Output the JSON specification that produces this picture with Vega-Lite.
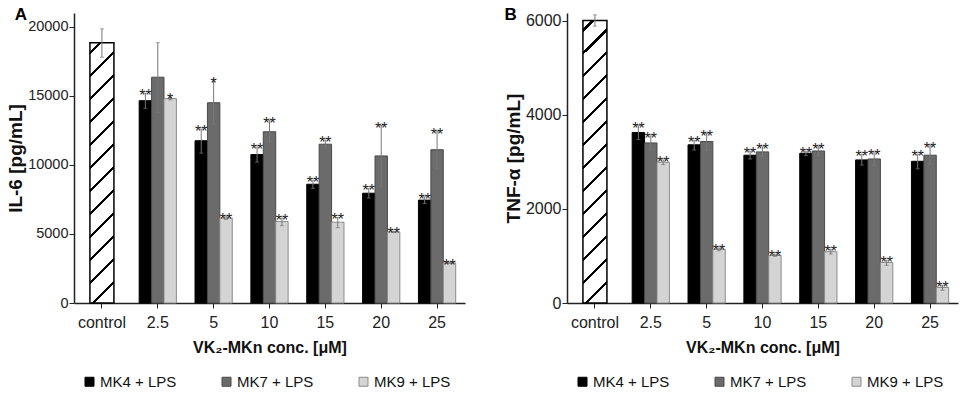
{
  "$schema": "https://vega.github.io/schema/vega-lite/v6.json",
  "padding": {"left": 6, "top": 5, "right": 5, "bottom": 0},
  "autosize": {"type": "pad"},
  "datasets": {
    "il6": [
      {"conc": "control", "series": "control", "value": 18850, "lo": 17800, "hi": 19850, "sig": ""},
      {"conc": "2.5", "series": "MK4 + LPS", "value": 14650, "lo": 14100, "hi": 15200, "sig": "**"},
      {"conc": "2.5", "series": "MK7 + LPS", "value": 16350, "lo": 13800, "hi": 18850, "sig": ""},
      {"conc": "2.5", "series": "MK9 + LPS", "value": 14800, "lo": 14700, "hi": 14900, "sig": "*"},
      {"conc": "5", "series": "MK4 + LPS", "value": 11750, "lo": 10850, "hi": 12600, "sig": "**"},
      {"conc": "5", "series": "MK7 + LPS", "value": 14500, "lo": 12950, "hi": 16050, "sig": "*"},
      {"conc": "5", "series": "MK9 + LPS", "value": 6150, "lo": 6050, "hi": 6250, "sig": "**"},
      {"conc": "10", "series": "MK4 + LPS", "value": 10750, "lo": 10200, "hi": 11300, "sig": "**"},
      {"conc": "10", "series": "MK7 + LPS", "value": 12400, "lo": 11650, "hi": 13200, "sig": "**"},
      {"conc": "10", "series": "MK9 + LPS", "value": 5900, "lo": 5600, "hi": 6150, "sig": "**"},
      {"conc": "15", "series": "MK4 + LPS", "value": 8600, "lo": 8300, "hi": 8900, "sig": "**"},
      {"conc": "15", "series": "MK7 + LPS", "value": 11500, "lo": 11200, "hi": 11800, "sig": "**"},
      {"conc": "15", "series": "MK9 + LPS", "value": 5850, "lo": 5450, "hi": 6200, "sig": "**"},
      {"conc": "20", "series": "MK4 + LPS", "value": 7950, "lo": 7600, "hi": 8300, "sig": "**"},
      {"conc": "20", "series": "MK7 + LPS", "value": 10650, "lo": 8450, "hi": 12850, "sig": "**"},
      {"conc": "20", "series": "MK9 + LPS", "value": 5150, "lo": 5100, "hi": 5200, "sig": "**"},
      {"conc": "25", "series": "MK4 + LPS", "value": 7450, "lo": 7200, "hi": 7700, "sig": "**"},
      {"conc": "25", "series": "MK7 + LPS", "value": 11100, "lo": 9750, "hi": 12400, "sig": "**"},
      {"conc": "25", "series": "MK9 + LPS", "value": 2900, "lo": 2870, "hi": 2930, "sig": "**"}
    ],
    "tnf": [
      {"conc": "control", "series": "control", "value": 6000, "lo": 5880, "hi": 6120, "sig": ""},
      {"conc": "2.5", "series": "MK4 + LPS", "value": 3620, "lo": 3470, "hi": 3770, "sig": "**"},
      {"conc": "2.5", "series": "MK7 + LPS", "value": 3400, "lo": 3250, "hi": 3550, "sig": "**"},
      {"conc": "2.5", "series": "MK9 + LPS", "value": 2990, "lo": 2940, "hi": 3040, "sig": "**"},
      {"conc": "5", "series": "MK4 + LPS", "value": 3360, "lo": 3250, "hi": 3460, "sig": "**"},
      {"conc": "5", "series": "MK7 + LPS", "value": 3430, "lo": 3240, "hi": 3600, "sig": "**"},
      {"conc": "5", "series": "MK9 + LPS", "value": 1140, "lo": 1110, "hi": 1170, "sig": "**"},
      {"conc": "10", "series": "MK4 + LPS", "value": 3140, "lo": 3060, "hi": 3230, "sig": "**"},
      {"conc": "10", "series": "MK7 + LPS", "value": 3210, "lo": 3110, "hi": 3320, "sig": "**"},
      {"conc": "10", "series": "MK9 + LPS", "value": 1010, "lo": 990, "hi": 1040, "sig": "**"},
      {"conc": "15", "series": "MK4 + LPS", "value": 3180, "lo": 3130, "hi": 3230, "sig": "**"},
      {"conc": "15", "series": "MK7 + LPS", "value": 3230, "lo": 3130, "hi": 3320, "sig": "**"},
      {"conc": "15", "series": "MK9 + LPS", "value": 1090, "lo": 1040, "hi": 1140, "sig": "**"},
      {"conc": "20", "series": "MK4 + LPS", "value": 3040, "lo": 2930, "hi": 3160, "sig": "**"},
      {"conc": "20", "series": "MK7 + LPS", "value": 3060, "lo": 2920, "hi": 3190, "sig": "**"},
      {"conc": "20", "series": "MK9 + LPS", "value": 860, "lo": 800, "hi": 910, "sig": "**"},
      {"conc": "25", "series": "MK4 + LPS", "value": 3010, "lo": 2850, "hi": 3160, "sig": "**"},
      {"conc": "25", "series": "MK7 + LPS", "value": 3140, "lo": 2950, "hi": 3340, "sig": "**"},
      {"conc": "25", "series": "MK9 + LPS", "value": 330, "lo": 270, "hi": 380, "sig": "**"}
    ]
  },
  "spacing": 39,
  "resolve": {"scale": {"color": "independent", "stroke": "independent", "x": "independent", "y": "independent", "xOffset": "independent"}, "legend": {"color": "independent", "stroke": "independent"}},
  "hconcat": [
    {
      "width": 391,
      "height": 290,
      "title": {"text": "A", "anchor": "start", "frame": "bounds", "fontSize": 17, "fontWeight": "bold", "offset": -11, "dx": 8, "color": "#000"},
      "data": {"name": "il6"},
      "encoding": {
        "x": {"field": "conc", "type": "nominal", "sort": ["control", "2.5", "5", "10", "15", "20", "25"],
              "scale": {"paddingInner": 0, "paddingOuter": 0},
              "axis": {"labelAngle": 0, "labelFontSize": 16, "labelPadding": 6, "title": "VK₂-MKn conc. [μM]", "titleFontSize": 16, "titleFontWeight": "bold", "titlePadding": 9}}
      },
      "layer": [
        {
          "transform": [{"filter": "datum.series !== 'control'"}],
          "mark": {"type": "bar", "strokeWidth": 1},
          "encoding": {
            "xOffset": {"field": "series", "type": "nominal", "scale": {"domain": ["MK4 + LPS", "MK7 + LPS", "MK9 + LPS"], "paddingInner": 0, "paddingOuter": 0.75}},
            "y": {"field": "value", "type": "quantitative", "scale": {"domain": [0, 21000], "nice": false},
                  "axis": {"values": [0, 5000, 10000, 15000, 20000], "format": "d", "labelFontSize": 14.5, "labelPadding": 1, "title": "IL-6 [pg/mL]", "titleFontSize": 19, "titleFontWeight": "bold", "titlePadding": 2}},
            "color": {"field": "series", "type": "nominal", "scale": {"domain": ["MK4 + LPS", "MK7 + LPS", "MK9 + LPS"], "range": ["#000000", "#6b6b6b", "#d4d4d4"]},
                      "legend": {"title": null, "orient": "bottom", "direction": "horizontal", "symbolType": "square", "symbolSize": 81, "labelFontSize": 15, "columnPadding": 42, "labelOffset": 3, "offset": 11, "padding": 8, "symbolStrokeWidth": 1}},
            "stroke": {"field": "series", "type": "nominal", "scale": {"domain": ["MK4 + LPS", "MK7 + LPS", "MK9 + LPS"], "range": ["#000000", "#4a4a4a", "#8c8c8c"]}, "legend": null}
          }
        },
        {
          "transform": [{"filter": "datum.series === 'control'"}],
          "mark": {"type": "bar", "width": 24, "stroke": "#000", "strokeWidth": 1.5,
                   "fill": {"gradient": "linear", "x1": 0, "y1": 0, "x2": 0.1, "y2": 1.083, "stops": [
                     {"offset": 0, "color": "#ffffff"},
                     {"offset": 0.0296, "color": "#ffffff"}, {"offset": 0.0296, "color": "#000000"}, {"offset": 0.0408, "color": "#000000"}, {"offset": 0.0408, "color": "#ffffff"},
                     {"offset": 0.1106, "color": "#ffffff"}, {"offset": 0.1106, "color": "#000000"}, {"offset": 0.1218, "color": "#000000"}, {"offset": 0.1218, "color": "#ffffff"},
                     {"offset": 0.1915, "color": "#ffffff"}, {"offset": 0.1915, "color": "#000000"}, {"offset": 0.2028, "color": "#000000"}, {"offset": 0.2028, "color": "#ffffff"},
                     {"offset": 0.2725, "color": "#ffffff"}, {"offset": 0.2725, "color": "#000000"}, {"offset": 0.2838, "color": "#000000"}, {"offset": 0.2838, "color": "#ffffff"},
                     {"offset": 0.3535, "color": "#ffffff"}, {"offset": 0.3535, "color": "#000000"}, {"offset": 0.3648, "color": "#000000"}, {"offset": 0.3648, "color": "#ffffff"},
                     {"offset": 0.4345, "color": "#ffffff"}, {"offset": 0.4345, "color": "#000000"}, {"offset": 0.4458, "color": "#000000"}, {"offset": 0.4458, "color": "#ffffff"},
                     {"offset": 0.5155, "color": "#ffffff"}, {"offset": 0.5155, "color": "#000000"}, {"offset": 0.5268, "color": "#000000"}, {"offset": 0.5268, "color": "#ffffff"},
                     {"offset": 0.5965, "color": "#ffffff"}, {"offset": 0.5965, "color": "#000000"}, {"offset": 0.6077, "color": "#000000"}, {"offset": 0.6077, "color": "#ffffff"},
                     {"offset": 0.6775, "color": "#ffffff"}, {"offset": 0.6775, "color": "#000000"}, {"offset": 0.6887, "color": "#000000"}, {"offset": 0.6887, "color": "#ffffff"},
                     {"offset": 0.7585, "color": "#ffffff"}, {"offset": 0.7585, "color": "#000000"}, {"offset": 0.7697, "color": "#000000"}, {"offset": 0.7697, "color": "#ffffff"},
                     {"offset": 0.8394, "color": "#ffffff"}, {"offset": 0.8394, "color": "#000000"}, {"offset": 0.8507, "color": "#000000"}, {"offset": 0.8507, "color": "#ffffff"},
                     {"offset": 0.9204, "color": "#ffffff"}, {"offset": 0.9204, "color": "#000000"}, {"offset": 0.9317, "color": "#000000"}, {"offset": 0.9317, "color": "#ffffff"},
                     {"offset": 1, "color": "#ffffff"}
                   ]}},
          "encoding": {"y": {"field": "value", "type": "quantitative"}}
        },
        {
          "transform": [{"filter": "datum.series !== 'control'"}],
          "mark": {"type": "rule", "color": "#777777", "strokeWidth": 1},
          "encoding": {"xOffset": {"field": "series", "type": "nominal"}, "y": {"field": "lo", "type": "quantitative"}, "y2": {"field": "hi"}}
        },
        {
          "transform": [{"filter": "datum.series !== 'control'"}],
          "mark": {"type": "tick", "orient": "horizontal", "size": 4, "thickness": 1, "color": "#777777"},
          "encoding": {"xOffset": {"field": "series", "type": "nominal"}, "y": {"field": "hi", "type": "quantitative"}}
        },
        {
          "transform": [{"filter": "datum.series !== 'control'"}],
          "mark": {"type": "tick", "orient": "horizontal", "size": 4, "thickness": 1, "color": "#777777"},
          "encoding": {"xOffset": {"field": "series", "type": "nominal"}, "y": {"field": "lo", "type": "quantitative"}}
        },
        {
          "transform": [{"filter": "datum.series === 'control'"}],
          "mark": {"type": "rule", "color": "#777777", "strokeWidth": 1},
          "encoding": {"y": {"field": "lo", "type": "quantitative"}, "y2": {"field": "hi"}}
        },
        {
          "transform": [{"filter": "datum.series === 'control'"}],
          "mark": {"type": "tick", "orient": "horizontal", "size": 4, "thickness": 1, "color": "#777777"},
          "encoding": {"y": {"field": "hi", "type": "quantitative"}}
        },
        {
          "transform": [{"filter": "datum.series === 'control'"}],
          "mark": {"type": "tick", "orient": "horizontal", "size": 4, "thickness": 1, "color": "#777777"},
          "encoding": {"y": {"field": "lo", "type": "quantitative"}}
        },
        {
          "transform": [{"filter": "datum.series !== 'control'"}],
          "mark": {"type": "text", "baseline": "alphabetic", "dy": 8, "fontSize": 16, "color": "#222222"},
          "encoding": {"xOffset": {"field": "series", "type": "nominal"}, "y": {"field": "hi", "type": "quantitative"}, "text": {"field": "sig"}}
        }
      ]
    },
    {
      "width": 391,
      "height": 290,
      "title": {"text": "B", "anchor": "start", "frame": "bounds", "fontSize": 17, "fontWeight": "bold", "offset": -11, "dx": 0, "color": "#000"},
      "data": {"name": "tnf"},
      "encoding": {
        "x": {"field": "conc", "type": "nominal", "sort": ["control", "2.5", "5", "10", "15", "20", "25"],
              "scale": {"paddingInner": 0, "paddingOuter": 0},
              "axis": {"labelAngle": 0, "labelFontSize": 16, "labelPadding": 6, "title": "VK₂-MKn conc. [μM]", "titleFontSize": 16, "titleFontWeight": "bold", "titlePadding": 9}}
      },
      "layer": [
        {
          "transform": [{"filter": "datum.series !== 'control'"}],
          "mark": {"type": "bar", "strokeWidth": 1},
          "encoding": {
            "xOffset": {"field": "series", "type": "nominal", "scale": {"domain": ["MK4 + LPS", "MK7 + LPS", "MK9 + LPS"], "paddingInner": 0, "paddingOuter": 0.75}},
            "y": {"field": "value", "type": "quantitative", "scale": {"domain": [0, 6160], "nice": false},
                  "axis": {"values": [0, 2000, 4000, 6000], "format": "d", "labelFontSize": 16, "labelPadding": 1, "title": "TNF-α [pg/mL]", "titleFontSize": 19, "titleFontWeight": "bold", "titlePadding": 2}},
            "color": {"field": "series", "type": "nominal", "scale": {"domain": ["MK4 + LPS", "MK7 + LPS", "MK9 + LPS"], "range": ["#000000", "#6b6b6b", "#d4d4d4"]},
                      "legend": {"title": null, "orient": "bottom", "direction": "horizontal", "symbolType": "square", "symbolSize": 81, "labelFontSize": 15, "columnPadding": 42, "labelOffset": 3, "offset": 11, "padding": 8, "symbolStrokeWidth": 1}},
            "stroke": {"field": "series", "type": "nominal", "scale": {"domain": ["MK4 + LPS", "MK7 + LPS", "MK9 + LPS"], "range": ["#000000", "#4a4a4a", "#8c8c8c"]}, "legend": null}
          }
        },
        {
          "transform": [{"filter": "datum.series === 'control'"}],
          "mark": {"type": "bar", "width": 24, "stroke": "#000", "strokeWidth": 1.5,
                   "fill": {"gradient": "linear", "x1": 0, "y1": 0, "x2": 0.0913, "y2": 1.077, "stops": [
                     {"offset": 0, "color": "#ffffff"},
                     {"offset": 0.0274, "color": "#ffffff"}, {"offset": 0.0274, "color": "#000000"}, {"offset": 0.0378, "color": "#000000"}, {"offset": 0.0378, "color": "#ffffff"},
                     {"offset": 0.1023, "color": "#ffffff"}, {"offset": 0.1023, "color": "#000000"}, {"offset": 0.1127, "color": "#000000"}, {"offset": 0.1127, "color": "#ffffff"},
                     {"offset": 0.1772, "color": "#ffffff"}, {"offset": 0.1772, "color": "#000000"}, {"offset": 0.1876, "color": "#000000"}, {"offset": 0.1876, "color": "#ffffff"},
                     {"offset": 0.2521, "color": "#ffffff"}, {"offset": 0.2521, "color": "#000000"}, {"offset": 0.2625, "color": "#000000"}, {"offset": 0.2625, "color": "#ffffff"},
                     {"offset": 0.3270, "color": "#ffffff"}, {"offset": 0.3270, "color": "#000000"}, {"offset": 0.3375, "color": "#000000"}, {"offset": 0.3375, "color": "#ffffff"},
                     {"offset": 0.4020, "color": "#ffffff"}, {"offset": 0.4020, "color": "#000000"}, {"offset": 0.4124, "color": "#000000"}, {"offset": 0.4124, "color": "#ffffff"},
                     {"offset": 0.4769, "color": "#ffffff"}, {"offset": 0.4769, "color": "#000000"}, {"offset": 0.4873, "color": "#000000"}, {"offset": 0.4873, "color": "#ffffff"},
                     {"offset": 0.5518, "color": "#ffffff"}, {"offset": 0.5518, "color": "#000000"}, {"offset": 0.5622, "color": "#000000"}, {"offset": 0.5622, "color": "#ffffff"},
                     {"offset": 0.6267, "color": "#ffffff"}, {"offset": 0.6267, "color": "#000000"}, {"offset": 0.6371, "color": "#000000"}, {"offset": 0.6371, "color": "#ffffff"},
                     {"offset": 0.7016, "color": "#ffffff"}, {"offset": 0.7016, "color": "#000000"}, {"offset": 0.7121, "color": "#000000"}, {"offset": 0.7121, "color": "#ffffff"},
                     {"offset": 0.7765, "color": "#ffffff"}, {"offset": 0.7765, "color": "#000000"}, {"offset": 0.7870, "color": "#000000"}, {"offset": 0.7870, "color": "#ffffff"},
                     {"offset": 0.8515, "color": "#ffffff"}, {"offset": 0.8515, "color": "#000000"}, {"offset": 0.8619, "color": "#000000"}, {"offset": 0.8619, "color": "#ffffff"},
                     {"offset": 0.9264, "color": "#ffffff"}, {"offset": 0.9264, "color": "#000000"}, {"offset": 0.9368, "color": "#000000"}, {"offset": 0.9368, "color": "#ffffff"},
                     {"offset": 1, "color": "#ffffff"}
                   ]}},
          "encoding": {"y": {"field": "value", "type": "quantitative"}}
        },
        {
          "transform": [{"filter": "datum.series !== 'control'"}],
          "mark": {"type": "rule", "color": "#777777", "strokeWidth": 1},
          "encoding": {"xOffset": {"field": "series", "type": "nominal"}, "y": {"field": "lo", "type": "quantitative"}, "y2": {"field": "hi"}}
        },
        {
          "transform": [{"filter": "datum.series !== 'control'"}],
          "mark": {"type": "tick", "orient": "horizontal", "size": 4, "thickness": 1, "color": "#777777"},
          "encoding": {"xOffset": {"field": "series", "type": "nominal"}, "y": {"field": "hi", "type": "quantitative"}}
        },
        {
          "transform": [{"filter": "datum.series !== 'control'"}],
          "mark": {"type": "tick", "orient": "horizontal", "size": 4, "thickness": 1, "color": "#777777"},
          "encoding": {"xOffset": {"field": "series", "type": "nominal"}, "y": {"field": "lo", "type": "quantitative"}}
        },
        {
          "transform": [{"filter": "datum.series === 'control'"}],
          "mark": {"type": "rule", "color": "#777777", "strokeWidth": 1},
          "encoding": {"y": {"field": "lo", "type": "quantitative"}, "y2": {"field": "hi"}}
        },
        {
          "transform": [{"filter": "datum.series === 'control'"}],
          "mark": {"type": "tick", "orient": "horizontal", "size": 4, "thickness": 1, "color": "#777777"},
          "encoding": {"y": {"field": "hi", "type": "quantitative"}}
        },
        {
          "transform": [{"filter": "datum.series === 'control'"}],
          "mark": {"type": "tick", "orient": "horizontal", "size": 4, "thickness": 1, "color": "#777777"},
          "encoding": {"y": {"field": "lo", "type": "quantitative"}}
        },
        {
          "transform": [{"filter": "datum.series !== 'control'"}],
          "mark": {"type": "text", "baseline": "alphabetic", "dy": 8, "fontSize": 16, "color": "#222222"},
          "encoding": {"xOffset": {"field": "series", "type": "nominal"}, "y": {"field": "hi", "type": "quantitative"}, "text": {"field": "sig"}}
        }
      ]
    }
  ],
  "config": {
    "font": "Liberation Sans",
    "view": {"stroke": null},
    "axis": {"grid": false, "domainColor": "#222222", "domainWidth": 1.5, "tickColor": "#222222", "tickSize": 5, "labelColor": "#222222", "titleColor": "#111111", "labelFont": "Liberation Sans", "titleFont": "Liberation Sans"},
    "legend": {"labelColor": "#111111", "labelFont": "Liberation Sans"},
    "title": {"font": "Liberation Sans"}
  }
}
